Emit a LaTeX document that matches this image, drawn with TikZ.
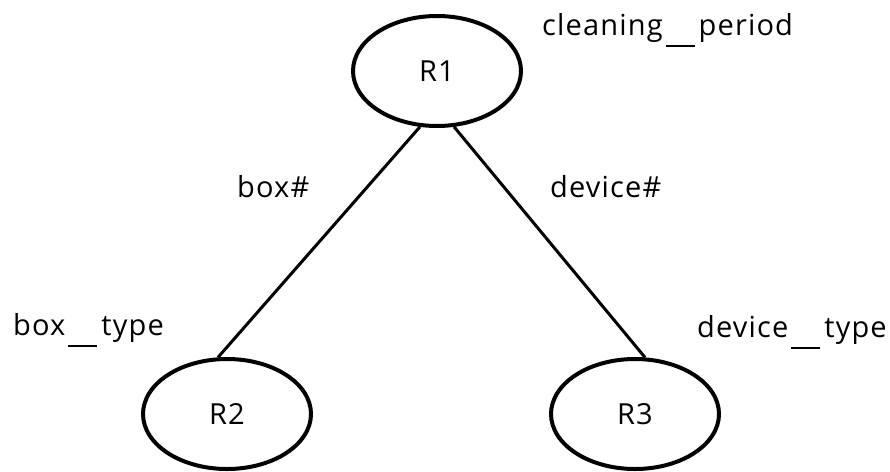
\documentclass[tikz,border=0pt]{standalone}
\usepackage{fontspec}
\setmainfont{Open Sans}[LetterSpace=4]
\usetikzlibrary{shapes.geometric}
% low, detached underline between words of an attribute name
\newcommand\lowbar{\kern3pt\rule[-12pt]{29pt}{2.4pt}\kern4pt}
\tikzset{
  relation/.style={ellipse, draw, line width=4pt, minimum width=168pt,
    minimum height=110pt, inner sep=0pt, font=\fontsize{29}{34}\selectfont},
  link/.style={line width=3pt},
  attr/.style={anchor=base west, inner sep=0pt, font=\fontsize{29}{34}\selectfont}
}
\begin{document}
\begin{tikzpicture}[x=1pt,y=-1pt]
  \useasboundingbox (0,0) rectangle (890,471);
  % relation nodes
  \node[relation] (R1) at (437,71) {R1};
  \node[relation] (R2) at (227,414) {R2};
  \node[relation] (R3) at (635,414) {R3};
  % connectors
  \draw[link] (R1.253) -- (R2.99);
  \draw[link] (R1.287) -- (R3.80);
  % attribute labels
  \node[attr] (cp) at (542,35) {cleaning\lowbar period};
  \node[attr] (bn) at (237,197) {box\#};
  \node[attr] (dn) at (550,197) {device\#};
  \node[attr] (bt) at (13,335) {box\lowbar type};
  \node[attr] (dt) at (697,337) {device\lowbar type};
\end{tikzpicture}
\end{document}
